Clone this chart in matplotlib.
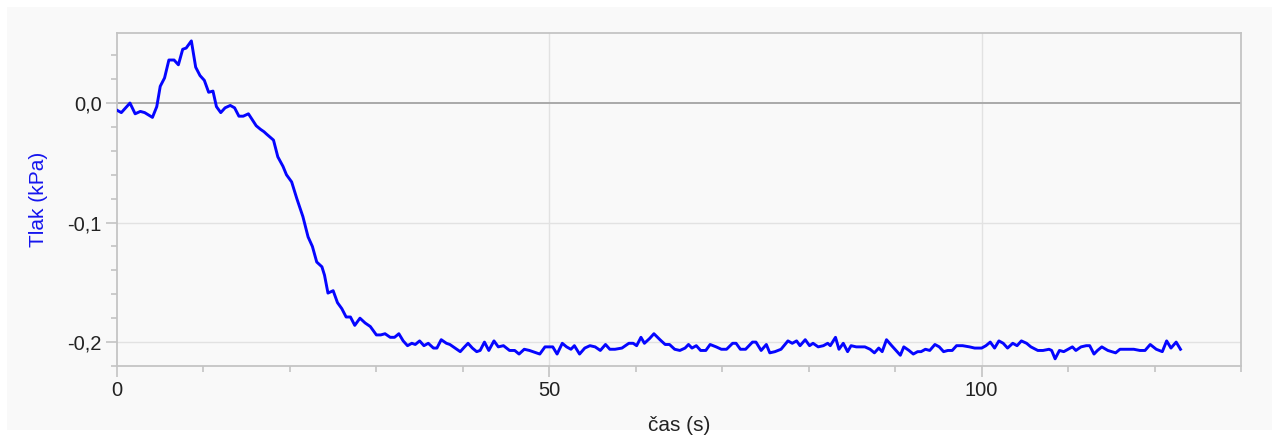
import matplotlib
matplotlib.use("Agg")
import matplotlib.pyplot as plt
from matplotlib.patches import Rectangle
from matplotlib.ticker import MultipleLocator, FuncFormatter

# Pressure log: time (s) and pressure (kPa)
time_s = [
    0.0, 0.5, 1.5, 2.1, 2.7, 3.2, 4.1, 4.6, 5.0, 5.5, 6.0, 6.6, 7.1, 7.6, 8.0, 8.6,
    9.1, 9.6, 10.1, 10.6, 11.1, 11.5, 12.0, 12.5, 13.1, 13.6, 14.1, 14.6, 15.2, 16.1,
    16.6, 17.0, 17.3, 18.1, 18.6, 19.2, 19.6, 20.2, 20.8, 21.5, 22.1, 22.6, 23.1, 23.7,
    24.0, 24.4, 25.0, 25.5, 26.0, 26.5, 27.0, 27.5, 28.1, 28.7, 29.3, 30.0, 30.5, 31.0,
    31.6, 32.1, 32.6, 33.1, 33.6, 34.1, 34.5, 35.0, 35.5, 36.0, 36.6, 37.0, 37.5, 38.1,
    38.5, 38.9, 39.3, 39.7, 40.2, 40.6, 41.1, 41.6, 42.0, 42.5, 43.0, 43.6, 44.1, 44.7,
    45.4, 46.0, 46.5, 47.1, 47.7, 48.5, 48.9, 49.5, 50.0, 50.4, 50.9, 51.5, 52.0, 52.5,
    52.9, 53.5, 54.1, 54.7, 55.3, 55.9, 56.5, 57.0, 57.6, 58.4, 59.2, 59.7, 60.1, 60.6,
    61.0, 61.6, 62.1, 62.8, 63.4, 63.9, 64.5, 65.1, 65.7, 66.1, 66.5, 67.0, 67.5, 68.1,
    68.6, 69.3, 69.9, 70.5, 71.2, 71.6, 72.1, 72.7, 73.5, 73.9, 74.5, 75.1, 75.5, 76.1,
    76.8, 77.6, 78.1, 78.6, 79.0, 79.6, 80.1, 80.5, 81.1, 81.7, 82.2, 82.5, 83.1, 83.5,
    84.0, 84.5, 84.9, 85.5, 86.0, 86.5, 87.1, 87.6, 88.1, 88.5, 89.0, 89.6, 90.1, 90.6,
    91.0, 91.6, 92.1, 92.6, 93.0, 93.5, 94.0, 94.6, 95.1, 95.6, 96.1, 96.6, 97.1, 97.8,
    98.6, 99.2, 100.0, 100.5, 101.0, 101.5, 102.0, 102.5, 103.0, 103.6, 104.1, 104.6,
    105.2, 105.7, 106.5, 107.1, 107.8, 108.1, 108.5, 109.0, 109.5, 110.0, 110.5, 110.9,
    111.5, 112.1, 112.5, 113.0, 113.4, 113.9, 114.6, 115.5, 116.0, 116.7, 117.6, 118.3,
    118.9, 119.5, 120.2, 120.9, 121.4, 121.9, 122.5, 123.0,
]
pressure_kpa = [
    -0.006, -0.008, 0.000, -0.009, -0.007, -0.008, -0.012, -0.003, 0.014, 0.021, 0.036,
    0.036, 0.032, 0.045, 0.046, 0.052, 0.030, 0.023, 0.019, 0.009, 0.010, -0.003, -0.008,
    -0.004, -0.002, -0.004, -0.011, -0.011, -0.009, -0.019, -0.022, -0.024, -0.026,
    -0.031, -0.045, -0.053, -0.060, -0.066, -0.080, -0.095, -0.112, -0.120, -0.133,
    -0.137, -0.144, -0.159, -0.157, -0.167, -0.172, -0.179, -0.179, -0.186, -0.180,
    -0.184, -0.187, -0.194, -0.194, -0.193, -0.196, -0.196, -0.193, -0.199, -0.203,
    -0.201, -0.202, -0.199, -0.203, -0.201, -0.205, -0.205, -0.198, -0.201, -0.202,
    -0.204, -0.206, -0.208, -0.204, -0.201, -0.205, -0.208, -0.207, -0.200, -0.207,
    -0.199, -0.204, -0.203, -0.207, -0.207, -0.210, -0.206, -0.207, -0.209, -0.210,
    -0.204, -0.204, -0.204, -0.210, -0.201, -0.204, -0.206, -0.203, -0.210, -0.205,
    -0.203, -0.204, -0.207, -0.202, -0.206, -0.206, -0.205, -0.201, -0.201, -0.203,
    -0.196, -0.201, -0.197, -0.193, -0.198, -0.202, -0.202, -0.206, -0.207, -0.205,
    -0.202, -0.205, -0.203, -0.207, -0.207, -0.202, -0.204, -0.206, -0.206, -0.201,
    -0.201, -0.206, -0.206, -0.200, -0.200, -0.207, -0.202, -0.209, -0.208, -0.206,
    -0.199, -0.201, -0.199, -0.203, -0.198, -0.203, -0.201, -0.204, -0.203, -0.201,
    -0.203, -0.196, -0.206, -0.201, -0.208, -0.203, -0.204, -0.204, -0.204, -0.206,
    -0.209, -0.205, -0.208, -0.198, -0.203, -0.207, -0.211, -0.204, -0.207, -0.210,
    -0.208, -0.208, -0.206, -0.207, -0.202, -0.204, -0.208, -0.207, -0.207, -0.203,
    -0.203, -0.204, -0.205, -0.205, -0.203, -0.200, -0.205, -0.199, -0.201, -0.205,
    -0.201, -0.203, -0.199, -0.201, -0.204, -0.207, -0.207, -0.206, -0.207, -0.214,
    -0.207, -0.208, -0.206, -0.204, -0.207, -0.204, -0.203, -0.203, -0.210, -0.207,
    -0.204, -0.207, -0.209, -0.206, -0.206, -0.206, -0.207, -0.207, -0.202, -0.206,
    -0.208, -0.199, -0.205, -0.200, -0.206,
]

x_label = "čas (s)"
y_label = "Tlak (kPa)"

plt.rcParams["font.family"] = ["Liberation Sans", "DejaVu Sans"]

panel = "#f9f9f9"
axis_col = "#c4c4c4"
text_col = "#222222"

fig = plt.figure(figsize=(12.79, 4.37), dpi=100, facecolor="white")
fig.patches.append(Rectangle((7 / 1279, 7 / 437), 1265 / 1279, 423 / 437,
                             transform=fig.transFigure, facecolor=panel,
                             edgecolor="none", zorder=-10))

ax = fig.add_axes([117 / 1279, 1 - 366 / 437, 1124 / 1279, 333 / 437])
ax.set_facecolor(panel)

ax.plot(time_s, pressure_kpa, color="#0505ff", linewidth=2.1, zorder=3,
        solid_joinstyle="round")

ax.set_xlim(0, 130)
ax.set_ylim(-0.22, 0.0586)

ax.xaxis.set_major_locator(MultipleLocator(50))
ax.xaxis.set_minor_locator(MultipleLocator(10))
ax.yaxis.set_major_locator(MultipleLocator(0.1))
ax.yaxis.set_minor_locator(MultipleLocator(0.02))

ax.xaxis.set_major_formatter(FuncFormatter(lambda v, p: f"{v:.0f}"))
ax.yaxis.set_major_formatter(
    FuncFormatter(lambda v, p: f"{v:.1f}".replace(".", ",").replace("-0,0", "0,0")))

for s in ax.spines.values():
    s.set_color(axis_col)
    s.set_linewidth(1.3)

ax.tick_params(axis="both", which="major", direction="out", length=8, width=1.2,
               color=axis_col, labelcolor=text_col, labelsize=14.5, pad=3)
ax.tick_params(axis="both", which="minor", direction="out", length=4, width=1.2,
               color=axis_col)

# grid lines at major positions, zero line emphasised
for yv in (-0.1, -0.2):
    ax.axhline(yv, color="#e2e2e2", linewidth=1.0, zorder=1)
for xv in (50, 100):
    ax.axvline(xv, color="#e2e2e2", linewidth=1.0, zorder=1)
ax.axhline(0.0, color="#a9a9a9", linewidth=1.4, zorder=2)

ax.set_xlabel(x_label, fontsize=15, color=text_col, labelpad=11)
ax.set_ylabel(y_label, fontsize=15, color="#1515ee", labelpad=14)

fig.savefig("out.png", dpi=100, facecolor="white")
